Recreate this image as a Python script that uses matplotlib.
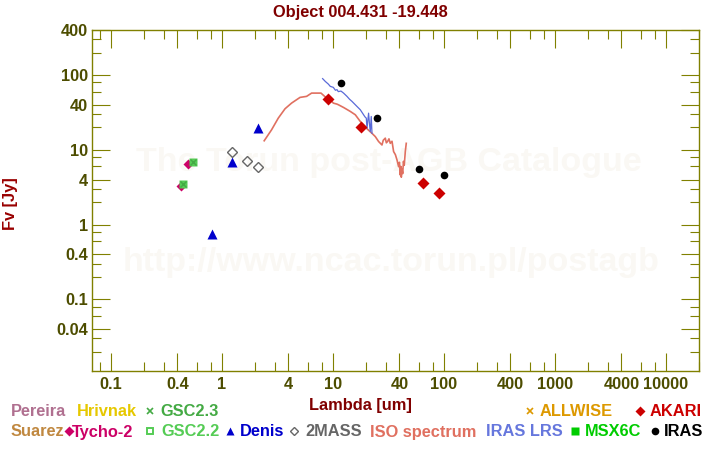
import numpy as np
import matplotlib
matplotlib.use('Agg')
import matplotlib.pyplot as plt
from matplotlib.lines import Line2D
from matplotlib.ticker import LogLocator, FuncFormatter, NullFormatter

plt.rcParams['font.family'] = ['Liberation Sans', 'DejaVu Sans']
plt.rcParams['font.weight'] = 'bold'

# photometry: wavelength [um], flux [Jy]
tycho_wl = [0.43, 0.50]
tycho_fl = [3.31, 6.47]
gsc22_wl = [0.445, 0.548]
gsc22_fl = [3.49, 6.88]
gsc23_wl = [0.445, 0.548]
gsc23_fl = [3.49, 6.88]
denis_wl = [0.82, 1.25, 2.14]
denis_fl = [0.75, 6.8, 19.4]
mass_wl = [1.23, 1.68, 2.15]
mass_fl = [9.38, 7.1, 5.9]
akari_wl = [9.0, 17.9, 64.8, 90.0]
akari_fl = [48.2, 20.3, 3.6, 2.64]
iras_wl = [12.0, 24.9, 59.5, 100.0]
iras_fl = [79.0, 26.8, 5.54, 4.6]

# spectra
iso_wl = [2.42, 2.82, 3.24, 3.73, 4.27, 5.09, 5.83, 6.47, 7.86, 8.83, 9.53, 10.15,
          10.96, 11.25, 12.56, 14.43, 16.02, 17.77, 20.42, 22.65, 24.26, 25.97,
          27.86, 28.6, 29.84, 30.5, 31.29, 32.2, 33.09, 34.3, 35.46, 36.8, 38.04,
          39.33, 40.0, 40.7, 41.2, 41.6, 42.2, 42.8, 43.5, 44.2, 45.2, 46.1]
iso_fl = [13.2, 18.5, 26.5, 35.4, 42.1, 50.2, 51.8, 57.3, 57.3, 49.1, 46.8, 42.1,
          40.8, 40.1, 36.8, 32.6, 29.4, 23.9, 19.1, 16.6, 15.0, 12.9,
          11.6, 13.4, 14.3, 12.4, 12.9, 14.0, 12.2, 13.0, 9.46, 8.6, 7.32,
          5.95, 6.8, 4.6, 6.0, 4.3, 5.5, 4.8, 7.0, 6.2, 9.5, 12.2]
lrs_wl = [8.13, 8.6, 9.15, 9.53, 10.15, 10.6, 10.96, 11.25, 11.9, 12.56, 13.48,
          14.2, 14.95, 16.58, 17.77, 19.02, 19.6, 20.12, 20.42, 21.1, 21.5,
          21.86, 22.3, 22.65]
lrs_fl = [89.5, 82.0, 75.7, 70.5, 68.4, 62.5, 63.7, 60.0, 61.0, 57.3, 51.8,
          47.5, 44.4, 38.0, 34.3, 29.4, 27.5, 26.5, 19.4, 30.9, 22.0,
          17.5, 27.9, 16.6]

# legend: label, colour, marker, row, text left [px], marker x [px]
legend_items = [
    ('Pereira', '#b07090', None, 0, 11, None),
    ('Hrivnak', '#e6c800', None, 0, 77, None),
    ('GSC2.3', '#44aa44', 'x', 0, 160, 150),
    ('ALLWISE', '#dd9900', 'x', 0, 540, 530),
    ('AKARI', '#cc0000', 'D', 0, 650, 640),
    ('Suarez', '#c08840', None, 1, 11, None),
    ('Tycho-2', '#cc0066', 'D', 1, 72, 69),
    ('GSC2.2', '#55cc55', 's', 1, 161, 150),
    ('Denis', '#0000cc', '^', 1, 240, 230),
    ('2MASS', '#666666', 'd', 1, 305, 294),
    ('ISO spectrum', '#e07060', None, 1, 370, None),
    ('IRAS LRS', '#6677dd', None, 1, 486, None),
    ('MSX6C', '#00cc00', 's', 1, 585, 575),
    ('IRAS', '#000000', 'o', 1, 664, 655),
]

W, H = 720, 450
fig = plt.figure(figsize=(7.2, 4.5), dpi=100)
ax = fig.add_axes([92 / W, 1 - 371 / H, 607 / W, 341 / H])

frame = '#808000'
ticklab = '#4d4d00'
red = '#800000'

ax.set_xscale('log')
ax.set_yscale('log')
ax.set_xlim(0.068, 20000)
ax.set_ylim(0.011, 400)

# watermark
ax.text(389 / W, 1 - 163 / H, 'The Torun post-AGB Catalogue', transform=fig.transFigure,
        ha='center', va='center', fontsize=24.5, color='#faf8f4', zorder=0.5)
ax.text(391 / W, 1 - 263 / H, 'http://www.ncac.torun.pl/postagb', transform=fig.transFigure,
        ha='center', va='center', fontsize=24.5, color='#faf8f4', zorder=0.5)

ax.plot(iso_wl, iso_fl, color='#e07060', lw=1.2, zorder=2)
ax.plot(lrs_wl, lrs_fl, color='#5a6ad8', lw=0.9, zorder=2)

ax.plot(tycho_wl, tycho_fl, 'D', color='#cc0066', ms=5.5, mec='none', zorder=3)
ax.plot(gsc22_wl, gsc22_fl, 's', color='#55cc55', ms=5.5, mec='none', zorder=4)
ax.plot(gsc23_wl, gsc23_fl, 'x', color='#44aa44', ms=5, mew=1, zorder=5)
ax.plot(denis_wl, denis_fl, '^', color='#0000cc', ms=6.5, mec='none', zorder=4)
ax.plot(mass_wl, mass_fl, 'D', mfc='none', mec='#666666', ms=5, mew=1, zorder=4)
ax.plot(akari_wl, akari_fl, 'D', color='#cc0000', ms=6, mec='none', zorder=4)
ax.plot(iras_wl, iras_fl, 'o', color='#000000', ms=5.5, mec='none', zorder=4)

for axis in (ax.xaxis, ax.yaxis):
    axis.set_major_locator(LogLocator(base=10, subs=(1.0, 4.0), numticks=20))
    axis.set_minor_locator(LogLocator(base=10, subs=(2.0, 3.0, 6.0, 8.0), numticks=20))
    axis.set_major_formatter(FuncFormatter(lambda v, p: f'{v:g}'))
    axis.set_minor_formatter(NullFormatter())

ax.tick_params(which='both', direction='in', top=True, right=True, color=frame, width=0.8)
ax.tick_params(which='major', length=13)
ax.tick_params(which='minor', length=6.5)
ax.tick_params(axis='x', pad=4)
ax.tick_params(axis='y', pad=3)
for lab in ax.get_xticklabels() + ax.get_yticklabels():
    lab.set_fontsize(11.8)
    lab.set_fontweight('bold')
    lab.set_color(ticklab)
for s in ax.spines.values():
    s.set_color(frame)
    s.set_linewidth(1.0)

fig.text(0.5, 1 - 17 / H, 'Object 004.431 -19.448', ha='center', va='baseline',
         fontsize=11.8, color=red)
fig.text(0.5, 1 - 410 / H, 'Lambda [um]', ha='center', va='baseline',
         fontsize=11.8, color=red)
fig.text(11 / W, 1 - 204 / H, 'Fv [Jy]', ha='center', va='center', rotation=90,
         fontsize=11.8, color='#990000')

row_base = [416.5, 436.5]
for label, col, mk, row, tx, mx in legend_items:
    fig.text(tx / W, 1 - row_base[row] / H, label, ha='left', va='baseline',
             fontsize=11.8, color=col)
    if mk is not None:
        yc = 1 - (row_base[row] - 6) / H
        if mk == 'x':
            fig.add_artist(Line2D([mx / W], [yc], marker='x', color=col, ms=5, mew=1.2,
                                  transform=fig.transFigure))
        elif mk == 'd':
            fig.add_artist(Line2D([mx / W], [yc], marker='D', mfc='none', mec=col, ms=4.5,
                                  mew=1, transform=fig.transFigure))
        elif mk == 's' and label == 'GSC2.2':
            fig.add_artist(Line2D([mx / W], [yc], marker='s', mfc='none', mec=col, ms=4.5,
                                  mew=1.4, transform=fig.transFigure))
        else:
            fig.add_artist(Line2D([mx / W], [yc], marker=mk, color=col, mec='none', ms=5.5,
                                  transform=fig.transFigure))

fig.savefig('out.png', dpi=100)
